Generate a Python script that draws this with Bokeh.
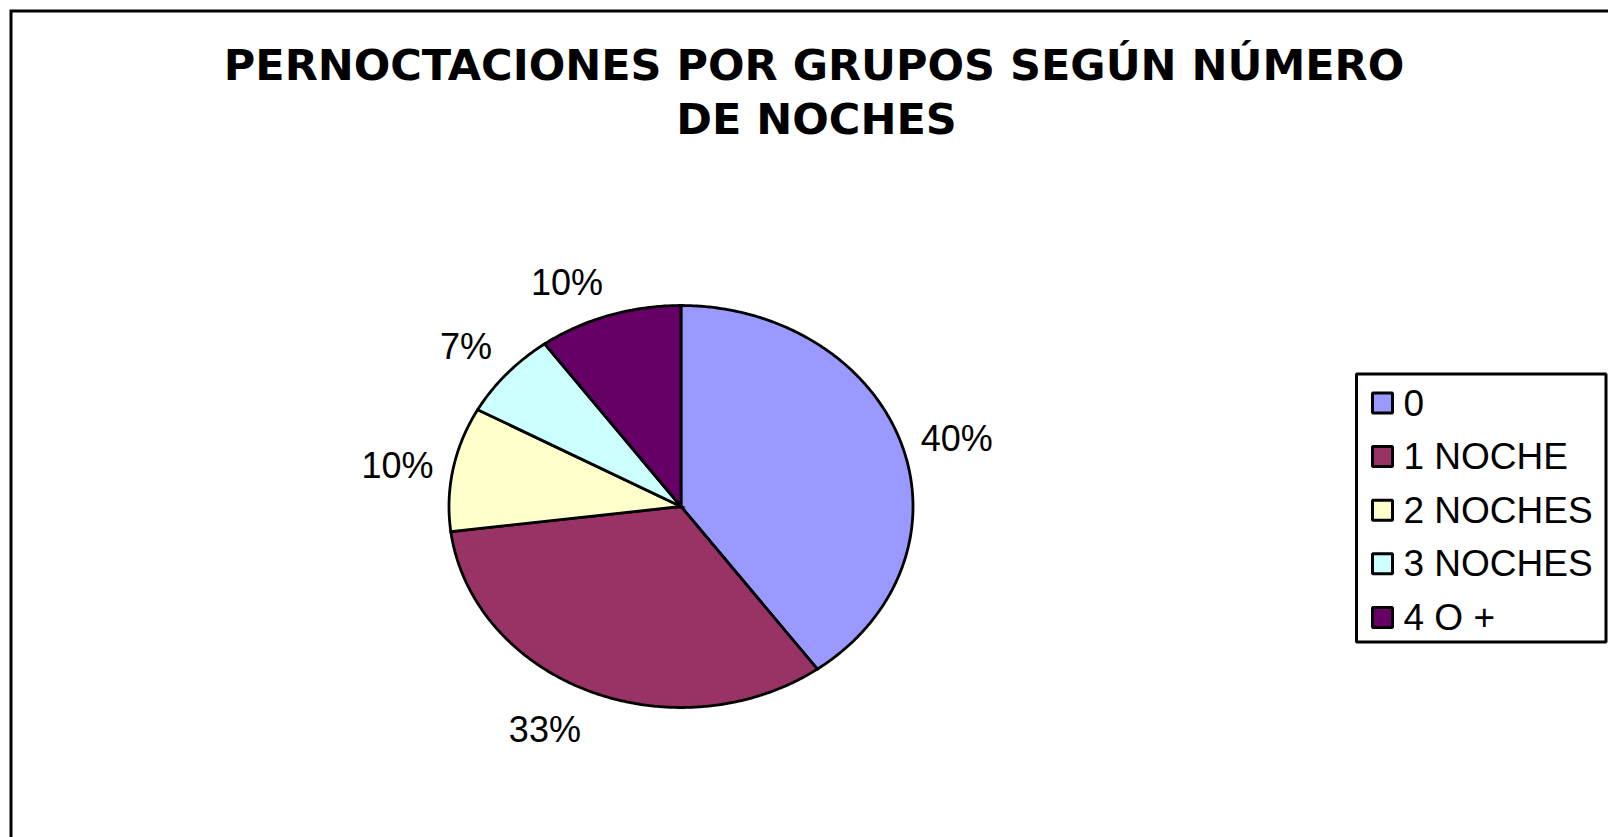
import numpy as np
from bokeh.plotting import figure
from bokeh.models import ColumnDataSource, Range1d
from bokeh.core.properties import value, field
from bokeh.embed import file_html
from bokeh.resources import INLINE

# ---- data ----
title_lines = ["PERNOCTACIONES POR GRUPOS SEGÚN NÚMERO", "DE NOCHES"]
categories = ["0", "1 NOCHE", "2 NOCHES", "3 NOCHES", "4 O +"]
percentages = [40, 33, 10, 7, 10]
pct_labels = ["40%", "33%", "10%", "7%", "10%"]
colors = ["#9999FF", "#993366", "#FFFFCC", "#CCFFFF", "#660066"]

# ---- layout (page pixels) ----
W, H = 1608, 837
PAGE = 0
CX, CY = 680.5, 506.0      # pie centre on page
RX, RY = 232.0, 201.0      # pie radii on page (elliptical pie)


def dx(px):
    return (px - CX) / RX


def dy(py):
    return (CY - py) / RY


p = figure(width=W, height=H, output_backend="svg", toolbar_location=None,
           x_range=Range1d(dx(PAGE), dx(PAGE + W)),
           y_range=Range1d(dy(PAGE + H), dy(PAGE)),
           x_axis_location=None, y_axis_location=None, min_border=0)
p.grid.visible = False
p.outline_line_color = None
p.background_fill_color = "white"
p.border_fill_color = "white"

# chart area border (only left and top edges fall inside the picture)
p.quad(left=[dx(10.5)], top=[dy(10.5)], right=[dx(W + 40)], bottom=[dy(H + 40)],
       fill_color=None, line_color="black", line_width=3, line_join="miter")

# ---- pie slices (unit circle in data space, clockwise from 12 o'clock) ----
vals = np.array(percentages, dtype=float)
frac = vals / vals.sum()
cum = np.concatenate([[0.0], np.cumsum(frac)])
xs, ys = [], []
for i in range(len(vals)):
    t = np.linspace(cum[i], cum[i + 1], max(int(frac[i] * 720), 8))
    ang = np.pi / 2 - 2 * np.pi * t
    xs.append(np.concatenate([[0.0], np.cos(ang), [0.0]]).tolist())
    ys.append(np.concatenate([[0.0], np.sin(ang), [0.0]]).tolist())

pie_src = ColumnDataSource(dict(xs=xs, ys=ys, color=colors, cat=categories))
p.patches("xs", "ys", source=pie_src, fill_color="color", line_color="black",
          line_width=2.8, line_join="miter")

# ---- percentage labels ----
mid = (cum[:-1] + cum[1:]) / 2
theta = np.pi / 2 - 2 * np.pi * mid
c, s = np.cos(theta), np.sin(theta)
lx = c * (1 + 20 / RX)
ly = s * (1 + 20 / RY)
align = ["left" if v > 0.1 else ("right" if v < -0.1 else "center") for v in c]
base = ["middle" if abs(v) < 0.5 else ("bottom" if v > 0 else "top") for v in s]
ly = np.array([y - 7 / RY if b == "bottom" else y for y, b in zip(ly, base)])
lab_src = ColumnDataSource(dict(x=lx, y=ly, text=pct_labels, align=align, base=base))
p.text(x="x", y="y", text="text", source=lab_src, text_align=field("align"),
       text_baseline=field("base"), text_font=value("Liberation Sans"),
       text_font_size="36px", text_color="black")

# ---- title ----
p.text(x=[dx(813.5), dx(816)], y=[dy(64), dy(118)], text=title_lines,
       text_align="center", text_baseline="middle", text_font=value("DejaVu Sans"),
       text_font_style="bold", text_font_size="43px", text_color="black")

# ---- legend ----
p.quad(left=[dx(1356)], right=[dx(1605.5)], top=[dy(373.5)], bottom=[dy(641.5)],
       fill_color="white", line_color="black", line_width=3)
leg_y = [dy(402.5 + 53.6 * i) for i in range(len(categories))]
p.scatter(x=[dx(1382)] * len(categories), y=leg_y, marker="square", size=20,
          fill_color=colors, line_color="black", line_width=3)
p.text(x=[dx(1403)] * len(categories), y=leg_y, text=categories,
       text_align="left", text_baseline="middle", text_font=value("Liberation Sans"),
       text_font_size="37px", text_color="black")

open("out.html", "w").write(file_html(p, INLINE))
